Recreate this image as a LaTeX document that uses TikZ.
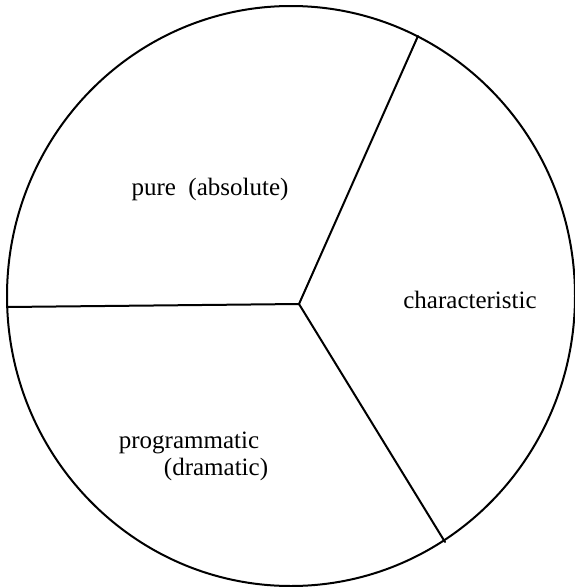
\documentclass[tikz,border=0pt]{standalone}
\usepackage{fontspec}
\setmainfont{Liberation Serif}
\begin{document}
\begin{tikzpicture}[x=1pt,y=-1pt,
  edge/.style={line width=2pt,line cap=round},
  lbl/.style={font=\fontsize{25}{29}\selectfont,inner sep=0pt}]
\useasboundingbox (0,0) rectangle (575,587);
\draw[edge] (291,296) ellipse [x radius=284, y radius=290];
\coordinate (c) at (299,304);
\coordinate (l) at (7,307);
\coordinate (ur) at (418,36);
\coordinate (lr) at (445,542);
\draw[edge] (c) -- (l);
\draw[edge] (c) -- (ur);
\draw[edge] (c) -- (lr);
\node[lbl] (pure) at (210,189) {pure\ \ (absolute)};
\node[lbl] (char) at (470,300) {characteristic};
\node[lbl] (prog) at (189,443) {programmatic};
\node[lbl] (dram) at (216,469) {(dramatic)};
\end{tikzpicture}
\end{document}
